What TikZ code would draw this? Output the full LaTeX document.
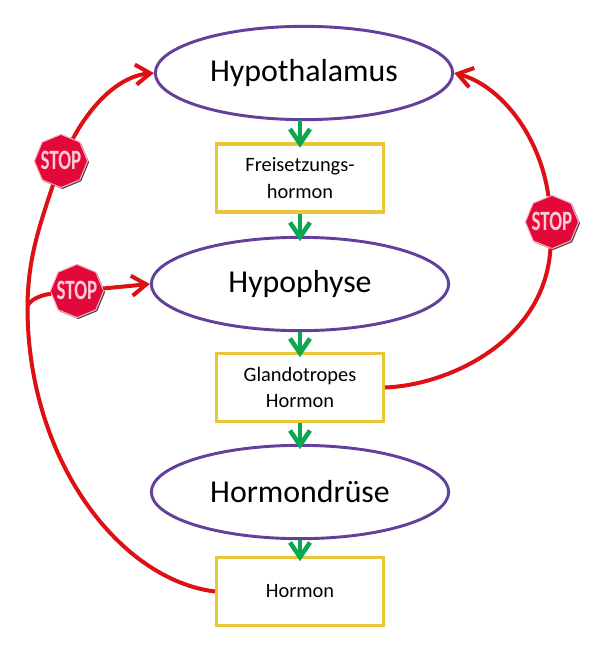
\documentclass[tikz,border=0pt]{standalone}
\usepackage{fontspec}
\setmainfont{Carlito}
\usetikzlibrary{arrows.meta,shapes.geometric,shadows}
\definecolor{drueselila}{HTML}{63409A}
\definecolor{kastengelb}{HTML}{E9C53A}
\definecolor{pfeilgruen}{HTML}{0BA850}
\definecolor{pfeilrot}{HTML}{DD1015}
\definecolor{stoprot}{HTML}{E4083A}
\newcommand{\stopwort}{\makebox[0pt]{\smash{\raisebox{-.9ex}{\scalebox{.95}[1.4]{\bfseries STOP}}}}}
\tikzset{
	druese/.style={ellipse, draw=drueselila, line width=2.2pt, minimum width=223pt, minimum height=70pt, inner sep=0pt, font=\fontsize{23.9}{27}\selectfont},
	kasten/.style={rectangle, draw=kastengelb, line width=2.5pt, minimum width=125pt, minimum height=51pt, inner sep=0pt, align=center, font=\fontsize{15.3}{20}\selectfont},
	stopschild/.style={regular polygon, regular polygon sides=8, shape border rotate=22.5, fill=stoprot, draw=stoprot!30, line width=.8pt, minimum size=40pt, inner sep=0pt, text=white!80!stoprot, font=\fontsize{15}{15}\selectfont, drop shadow={shadow xshift=1pt, shadow yshift=-1pt, fill=black!75, opacity=1}},
	regelung/.style={draw=pfeilgruen, line width=3.4pt, shorten >=-4pt, -{Straight Barb[length=11pt,width=15pt]}},
	hemmung/.style={draw=pfeilrot, line width=3pt},
	hemmpfeil/.style={hemmung, -{Straight Barb[length=11pt,width=15pt]}}
}
\begin{document}
\begin{tikzpicture}[x=0.75pt, y=-0.75pt]
	\useasboundingbox (0,0) rectangle (597,661);
	\foreach \name/\x/\y/\lab in {hypothalamus/304/73/Hypothalamus, hypophyse/300/284/Hypophyse, hormondruese/300/492/Hormondrüse} {
		\node[druese] (\name) at (\x,\y) {\lab};
	}
	\foreach \name/\y/\lab in {freisetzung/178/{Freisetzungs-\\hormon}, glandotrop/387.5/{Glandotropes\\Hormon}, hormon/591.5/{Hormon}} {
		\node[kasten] (\name) at (300,\y) {\lab};
	}
	\node[stopschild] (stoplinks) at (61,161) {\stopwort};
	\node[stopschild] (stopmitte) at (77,291) {\stopwort};
	\node[stopschild] (stoprechts) at (552,222) {\stopwort};
	\coordinate (abzweig) at (27.5,306);
	% green chain
	\draw[regelung] (300,120) -- (freisetzung.north);
	\draw[regelung] (freisetzung.south) -- (hypophyse.north);
	\draw[regelung] (hypophyse.south) -- (glandotrop.north);
	\draw[regelung] (glandotrop.south) -- (hormondruese.north);
	\draw[regelung] (hormondruese.south) -- (hormon.north);
	% red feedback
	\draw[hemmung] (hormon.west) .. controls (120,580) and (27,460) .. (abzweig);
	\draw[hemmung] (abzweig) .. controls (28,260) and (38,230) .. (stoplinks);
	\draw[hemmpfeil] (stoplinks) .. controls (92,103) and (120,76) .. (hypothalamus.west);
	\draw[hemmung] (abzweig) .. controls (30,300) and (40,295) .. (stopmitte);
	\draw[hemmpfeil] (stopmitte) -- (hypophyse.west);
	\draw[hemmung] (glandotrop.east) .. controls (450,385) and (545,340) .. (stoprechts);
	\draw[hemmpfeil] (stoprechts) .. controls (540,135) and (500,85) .. (hypothalamus.east);
\end{tikzpicture}
\end{document}
